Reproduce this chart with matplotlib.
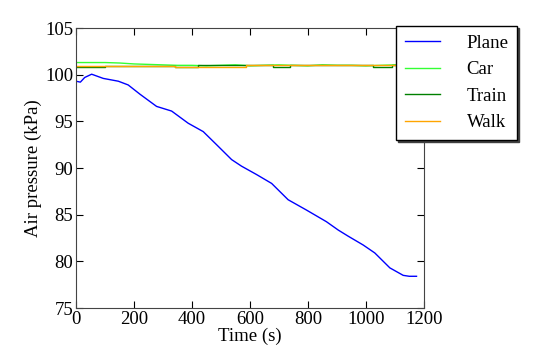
import matplotlib
matplotlib.use('Agg')
import matplotlib.pyplot as plt

# readings
plane_t = [0, 15, 30, 54, 94, 146, 180, 221, 278, 330, 387, 439, 485, 537, 571,
           623, 675, 732, 795, 864, 905, 939, 991, 1031, 1083, 1129, 1150, 1175]
plane_p = [99.3, 99.2, 99.7, 100.05, 99.6, 99.3, 98.9, 97.9, 96.6, 96.1, 94.8, 93.9,
           92.5, 90.9, 90.2, 89.3, 88.35, 86.6, 85.5, 84.25, 83.35, 82.7, 81.75,
           80.9, 79.3, 78.5, 78.4, 78.4]

car_t = [0, 100, 150, 200, 250, 300, 350, 400, 450, 500, 550, 600, 650, 700, 750,
         800, 850, 900, 950, 1000, 1050, 1100, 1180]
car_p = [101.3, 101.3, 101.25, 101.15, 101.1, 101.05, 101.0, 101.0, 100.95, 101.0,
         101.05, 100.95, 101.0, 101.05, 101.0, 100.95, 101.05, 101.0, 101.0, 100.95,
         101.0, 101.05, 101.0]

train_t = [0, 100, 340, 420, 680, 740, 1025, 1090, 1180]
train_p = [100.8, 100.95, 100.8, 101.0, 100.8, 101.0, 100.8, 101.0, 101.0]

walk_t = [0, 340, 588, 1180]
walk_p = [100.93, 100.8, 101.03, 101.03]

plt.rcParams['font.family'] = ['Liberation Serif', 'DejaVu Serif']
plt.rcParams['font.size'] = 13.5

fig = plt.figure(figsize=(5.52, 3.59), dpi=100)
ax = fig.add_axes([0.1377, 0.142, 0.630, 0.780])

ax.plot(plane_t, plane_p, color='blue', lw=1, label='Plane')
ax.plot(car_t, car_p, color='#33ff33', lw=1, label='Car')
ax.plot(train_t, train_p, color='green', lw=1, drawstyle='steps-post', label='Train')
ax.plot(walk_t, walk_p, color='orange', lw=1, drawstyle='steps-post', label='Walk')

ax.set_xlim(0, 1200)
ax.set_ylim(75, 105)
ax.set_xticks(range(0, 1201, 200))
ax.set_yticks(range(75, 106, 5))
ax.tick_params(direction='in', top=True, right=True, length=5, pad=2)
for s in ax.spines.values():
    s.set_color('#444444')
ax.set_xlabel('Time (s)', labelpad=0)
ax.set_ylabel('Air pressure (kPa)', labelpad=2)

leg = ax.legend(loc='upper right', bbox_to_anchor=(517 / 552, 1 - 26 / 359),
                bbox_transform=fig.transFigure, fancybox=False,
                shadow={'color': '0.25', 'alpha': 1, 'ox': 1.5, 'oy': -1.5},
                framealpha=1, edgecolor='black', fontsize=13.5,
                handlelength=1.9, handletextpad=1.4, labelspacing=0.5,
                borderpad=0.45, borderaxespad=0)
leg.get_frame().set_linewidth(1)

fig.savefig('out.png', dpi=100)
